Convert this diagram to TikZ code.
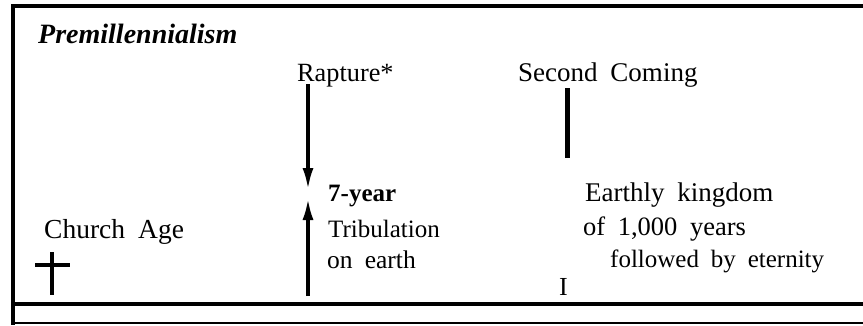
\documentclass[tikz,border=0pt]{standalone}
\usepackage{fontspec}
\setmainfont{Liberation Serif}[WordSpace={1.9,1,1}]
\usetikzlibrary{arrows.meta}
\tikzset{
  txt/.style={inner sep=0pt, anchor=base west, font=\fontsize{#1}{30}\selectfont},
  txt/.default=25,
  title/.style={inner sep=0pt, anchor=base west, font=\fontsize{28}{32}\selectfont\bfseries\itshape},
  frameline/.style={line width=3.6pt},
  thinline/.style={line width=1.4pt},
  bar/.style={line width=5pt},
  arr/.style={line width=3.6pt, -{Latex[length=22pt,width=11pt]}},
  crossline/.style={line width=3.4pt}
}
\begin{document}
\begin{tikzpicture}[x=1pt,y=-1pt]
\useasboundingbox (0,0) rectangle (863,325);
% frame
\coordinate (tl) at (11.2,6);
\coordinate (tr) at (863,6);
\coordinate (bt) at (13,4.2);
\coordinate (bl) at (13,325);
\coordinate (ml) at (13,304);
\coordinate (mr) at (863,304);
\coordinate (ll) at (13,323);
\coordinate (lr) at (863,323);
\draw[frameline] (tl) -- (tr);
\draw[frameline] (bt) -- (bl);
\draw[frameline] (ml) -- (mr);
\draw[thinline] (ll) -- (lr);
% texts
\node[title] (pre) at (38,43) {Premillennialism};
\node[txt=26.3] (rap) at (297,81) {Rapture*};
\node[txt=27] (sec) at (518,81) {Second Coming};
\node[txt=25] (sev) at (328,201) {\bfseries 7-year};
\node[txt=25] (tri) at (328,237) {Tribulation};
\node[txt=25.5] (one) at (327,268) {on earth};
\node[txt=27] (ear) at (585,201) {Earthly kingdom};
\node[txt=26.5] (of) at (583,235) {of 1,000 years};
\node[txt=25] (fol) at (610,267) {followed by eternity};
\node[txt=26] (eye) at (559,295) {I};
\node[txt=27.5] (chu) at (44,238) {Church Age};
% second coming bar
\coordinate (sc1) at (567,88);
\coordinate (sc2) at (567,158);
\draw[bar] (sc1) -- (sc2);
% arrows
\coordinate (r1) at (308,84);
\coordinate (r2) at (308,190);
\coordinate (u1) at (308,296);
\coordinate (u2) at (308,198);
\draw[arr] (r1) -- (r2);
\draw[arr] (u1) -- (u2);
% cross
\coordinate (cv1) at (52,252);
\coordinate (cv2) at (52,295);
\coordinate (ch1) at (35,265);
\coordinate (ch2) at (70,265);
\draw[crossline] (cv1) -- (cv2);
\draw[crossline] (ch1) -- (ch2);
\end{tikzpicture}
\end{document}
